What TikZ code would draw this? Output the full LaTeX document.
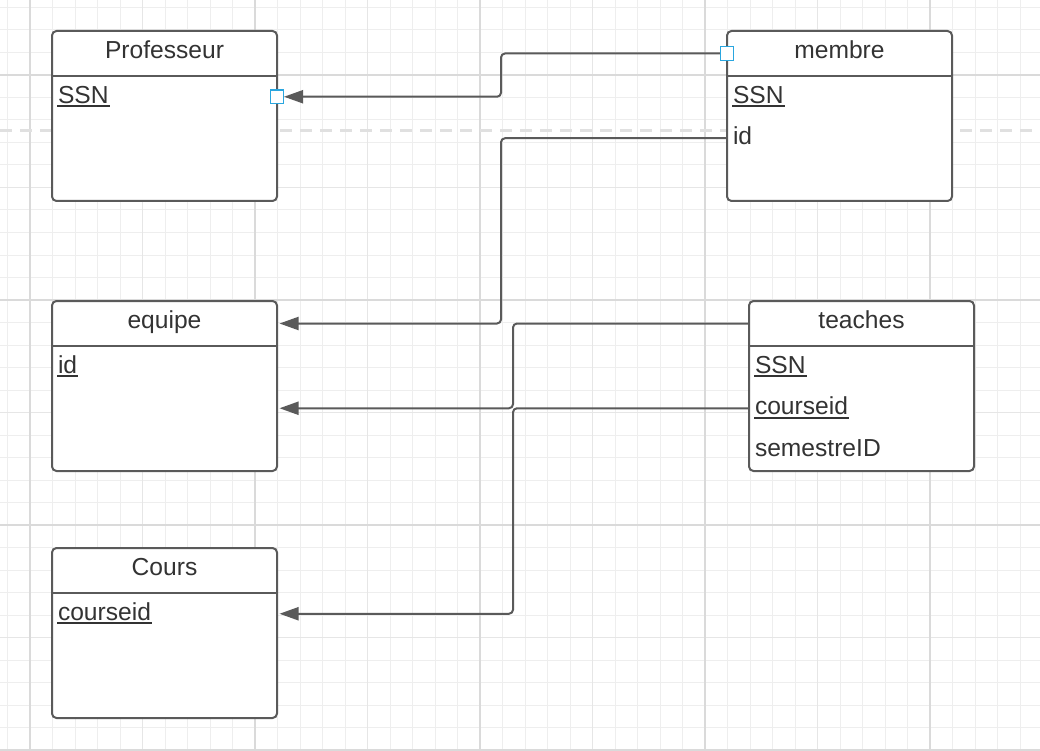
\documentclass[tikz,border=0pt]{standalone}
\usepackage{fontspec}
\setmainfont{Liberation Sans}
\usepackage{tikz}
\usetikzlibrary{arrows.meta}

\definecolor{boxgrey}{HTML}{5A5A5A}
\definecolor{txtgrey}{HTML}{333333}
\definecolor{handleblue}{HTML}{2AA6DF}
\definecolor{gridminor}{HTML}{EEEEEE}
\definecolor{gridmid}{HTML}{E6E6E6}
\definecolor{gridmajor}{HTML}{DADADA}
\definecolor{pagedash}{HTML}{E0E0E0}

\newcommand\entfont{\fontsize{24.6}{28}\selectfont}
\newcommand\ukey[1]{\setbox0=\hbox{#1}\rlap{\kern-1pt\rule[-4pt]{\dimexpr\wd0+2pt\relax}{1.6pt}}\box0}

\tikzset{
  entity/.style={draw=boxgrey, line width=2pt, rounded corners=4.5pt, fill=white,
    minimum width=225pt, minimum height=170pt, inner sep=0pt, outer sep=0pt},
  title/.style={anchor=north, minimum width=225pt, minimum height=45pt, inner sep=0pt,
    outer sep=0pt, text=txtgrey, font=\entfont, text height=17.6pt, text depth=8pt},
  attr/.style={anchor=north, minimum width=225pt, minimum height=41.5pt, inner sep=0pt,
    outer sep=0pt, text width=213pt, align=left, text=txtgrey, font=\entfont,
    text height=17.6pt, text depth=5pt},
  divider/.style={draw=boxgrey, line width=2pt},
  link/.style={draw=boxgrey, line width=2pt, rounded corners=4pt,
    -{Triangle[length=19pt,width=13pt]}, shorten >=2.5pt},
  handle/.style={draw=handleblue, line width=1.3pt, fill=white, minimum size=13.5pt,
    inner sep=0pt}
}

\begin{document}
\begin{tikzpicture}[x=1pt,y=-1pt]

  \useasboundingbox[fill=white] (0,0) rectangle (1040,751);

  %% Background grid
  \foreach \k in {-1,...,45}
    \draw[gridminor, line width=1pt] (30+22.5*\k,0) -- (30+22.5*\k,751);
  \foreach \k in {-3,...,30}
    \draw[gridminor, line width=1pt] (0,75+22.5*\k) -- (1040,75+22.5*\k);
  \foreach \k in {0,...,8}
    \draw[gridmid, line width=1.2pt] (30+112.5*\k,0) -- (30+112.5*\k,751);
  \foreach \k in {0,...,6}
    \draw[gridmid, line width=1.2pt] (0,75+112.5*\k) -- (1040,75+112.5*\k);
  \foreach \k in {0,...,4}
    \draw[gridmajor, line width=1.3pt] (30+225*\k,0) -- (30+225*\k,751);
  \foreach \k in {0,...,3}
    \draw[gridmajor, line width=1.3pt] (0,75+225*\k) -- (1040,75+225*\k);

  %% Page break line
  \draw[pagedash, line width=3pt, dash pattern=on 12pt off 8pt] (0,131) -- (1040,131);

  %% Professeur
  \node[entity] (prof) at (164.5,116) {};
  \node[title] (prof-title) at (prof.north) {Professeur};
  \draw[divider] (prof-title.south west) -- (prof-title.south east);
  \node[attr] (prof-ssn) at (prof-title.south) {\ukey{SSN}};

  %% membre
  \node[entity] (memb) at (839.5,116) {};
  \node[title] (memb-title) at (memb.north) {membre};
  \draw[divider] (memb-title.south west) -- (memb-title.south east);
  \node[attr] (memb-ssn) at (memb-title.south) {\ukey{SSN}};
  \node[attr] (memb-id) at (memb-ssn.south) {id};

  %% equipe
  \node[entity] (equi) at (164.5,386) {};
  \node[title] (equi-title) at (equi.north) {equipe};
  \draw[divider] (equi-title.south west) -- (equi-title.south east);
  \node[attr] (equi-id) at (equi-title.south) {\ukey{id}};
  \coordinate (equi-r2) at ([yshift=-41.5pt]equi-id.east);

  %% teaches
  \node[entity] (teach) at (861.5,386) {};
  \node[title] (teach-title) at (teach.north) {teaches};
  \draw[divider] (teach-title.south west) -- (teach-title.south east);
  \node[attr] (teach-ssn) at (teach-title.south) {\ukey{SSN}};
  \node[attr] (teach-cid) at (teach-ssn.south) {\ukey{courseid}};
  \node[attr] (teach-sem) at (teach-cid.south) {semestreID};

  %% Cours
  \node[entity] (cours) at (164.5,633) {};
  \node[title] (cours-title) at (cours.north) {Cours};
  \draw[divider] (cours-title.south west) -- (cours-title.south east);
  \node[attr] (cours-cid) at (cours-title.south) {\ukey{courseid}};

  %% Links
  \draw[link, shorten >=7pt] (memb-title.west) -- ++(-226pt,0) |- (prof-ssn.east);
  \draw[link] (memb-id.west) -- ++(-226pt,0) |- (equi-title.east);
  \draw[link] (teach-title.west) -- ++(-236pt,0) |- (equi-r2);
  \draw[link] (teach-cid.west) -- ++(-236pt,0) |- (cours-cid.east);

  %% Selection handles
  \node[handle] (memb-handle) at (memb-title.west) {};
  \node[handle] (prof-handle) at (prof-ssn.east) {};

\end{tikzpicture}
\end{document}
